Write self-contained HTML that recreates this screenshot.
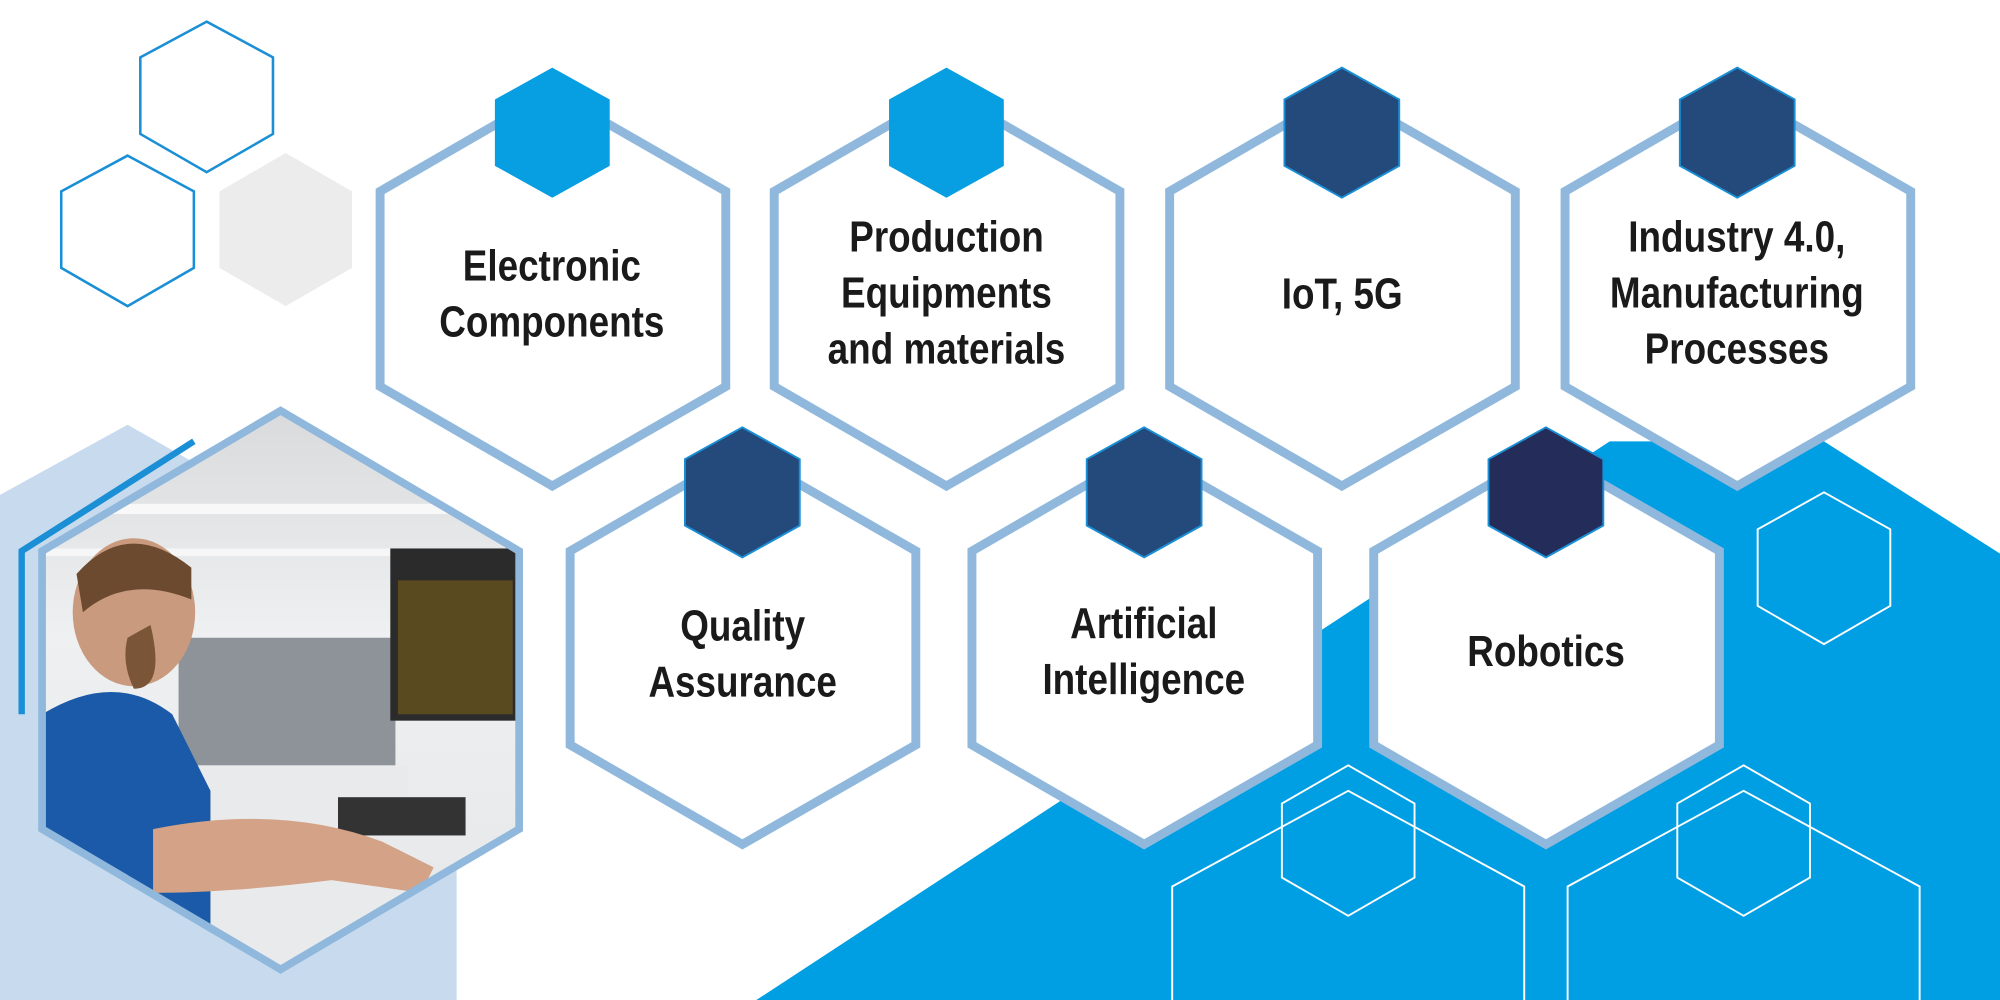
<!DOCTYPE html>
<html><head><meta charset="utf-8"><style>
html,body{margin:0;padding:0;background:#fff;}
svg{display:block;}
text{font-family:"Liberation Sans",sans-serif;font-weight:bold;fill:#1a1a1a;font-size:34px;text-anchor:middle;}
</style></head><body>
<svg width="2000" height="1000" viewBox="0 0 1568 784" preserveAspectRatio="none" xmlns="http://www.w3.org/2000/svg">
<defs>
<clipPath id="ph"><polygon points="220,322 407,432 407,650 220,760 33,650 33,432"/></clipPath>
<linearGradient id="bg" x1="0" y1="0" x2="0" y2="1"><stop offset="0" stop-color="#d8dadc"/><stop offset="0.4" stop-color="#eef0f1"/><stop offset="1" stop-color="#e4e6e8"/></linearGradient>
</defs>
<polygon points="593,784 1262,346 1430,346 1568,434 1568,784" fill="#009fe3"/>
<g fill="none" stroke="#fff" stroke-width="1.5">
<polygon points="1430,386 1482,415 1482,475 1430,505 1378,475 1378,415"/>
<polygon points="1057,600 1109,630 1109,688 1057,718 1005,688 1005,630"/>
<polygon points="1367,600 1419,630 1419,688 1367,718 1315,688 1315,630"/>
<polyline points="919,790 919,695 1057,620 1195,695 1195,790"/>
<polyline points="1229,790 1229,695 1367,620 1505,695 1505,790"/>
</g>
<polygon points="162,17 214,45 214,105 162,135 110,105 110,45" fill="none" stroke="#1a8fd6" stroke-width="2"/>
<polygon points="100,122 152,150 152,210 100,240 48,210 48,150" fill="none" stroke="#1a8fd6" stroke-width="2"/>
<polygon points="224,120 276,150 276,210 224,240 172,210 172,150" fill="#ececec"/>
<polygon points="0,388 100,333 358,480 358,784 0,784" fill="#c7daee"/>
<polyline points="17,560 17,432 152,346" fill="none" stroke="#1a8fd6" stroke-width="5"/>
<g clip-path="url(#ph)">
<rect x="30" y="320" width="380" height="445" fill="url(#bg)"/>
<rect x="30" y="395" width="380" height="8" fill="#f8f8f8"/>
<rect x="30" y="430" width="380" height="6" fill="#f6f6f6"/>
<rect x="140" y="500" width="170" height="120" fill="#8d9399"/>
<rect x="120" y="600" width="200" height="160" fill="#e9eaeb"/>
<rect x="306" y="430" width="100" height="135" fill="#2b2b2b"/>
<rect x="312" y="455" width="90" height="105" fill="#5a4a20"/>
<rect x="265" y="625" width="100" height="30" fill="#333"/>
<ellipse cx="105" cy="480" rx="48" ry="58" fill="#c99a7e"/>
<path d="M60,450 Q100,405 150,445 L150,470 Q100,450 65,480Z" fill="#6b4a30"/>
<path d="M118,490 Q130,540 105,540 Q95,520 100,500Z" fill="#7a5538"/>
<path d="M33,560 Q90,525 135,560 L165,620 L165,760 L33,760Z" fill="#1a5aa8"/>
<path d="M120,650 Q220,630 300,660 L340,680 L330,700 L260,690 Q180,700 120,700Z" fill="#d4a286"/>
</g>
<polygon points="220,322 407,432 407,650 220,760 33,650 33,432" fill="none" stroke="#8fb8dc" stroke-width="6"/>
<g fill="#fff" stroke="#8fb8dc" stroke-width="7">
<polygon points="433,72 569,150 569,303 433,381 298,303 298,150"/>
<polygon points="742,72 878,150 878,303 742,381 607,303 607,150"/>
<polygon points="1052,72 1188,150 1188,303 1052,381 917,303 917,150"/>
<polygon points="1362,72 1498,150 1498,303 1362,381 1227,303 1227,150"/>
<polygon points="582,354 718,432 718,584 582,662 447,584 447,432"/>
<polygon points="897,354 1033,432 1033,584 897,662 762,584 762,432"/>
<polygon points="1212,354 1348,432 1348,584 1212,662 1077,584 1077,432"/>
</g>
<polygon points="433,53 478,78 478,130 433,155 388,130 388,78" fill="#089fe2"/>
<polygon points="742,53 787,78 787,130 742,155 697,130 697,78" fill="#089fe2"/>
<polygon points="1052,53 1097,78 1097,130 1052,155 1007,130 1007,78" fill="#234a7a" stroke="#1a8fd6" stroke-width="1.5"/>
<polygon points="1362,53 1407,78 1407,130 1362,155 1317,130 1317,78" fill="#234a7a" stroke="#1a8fd6" stroke-width="1.5"/>
<polygon points="582,335 627,360 627,412 582,437 537,412 537,360" fill="#234a7a" stroke="#1a8fd6" stroke-width="1.5"/>
<polygon points="897,335 942,360 942,412 897,437 852,412 852,360" fill="#234a7a" stroke="#1a8fd6" stroke-width="1.5"/>
<polygon points="1212,335 1257,360 1257,412 1212,437 1167,412 1167,360" fill="#242d5a" stroke="#1a8fd6" stroke-width="1.5"/>
<g transform="scale(0.85,1)">
<text x="509" y="220">Electronic</text>
<text x="509" y="264">Components</text>
<text x="873" y="197">Production</text>
<text x="873" y="241">Equipments</text>
<text x="873" y="285">and materials</text>
<text x="1238" y="242">IoT, 5G</text>
<text x="1602" y="197">Industry 4.0,</text>
<text x="1602" y="241">Manufacturing</text>
<text x="1602" y="285">Processes</text>
<text x="685" y="502">Quality</text>
<text x="685" y="546">Assurance</text>
<text x="1055" y="500">Artificial</text>
<text x="1055" y="544">Intelligence</text>
<text x="1426" y="522">Robotics</text>
</g>
</svg>
</body></html>
